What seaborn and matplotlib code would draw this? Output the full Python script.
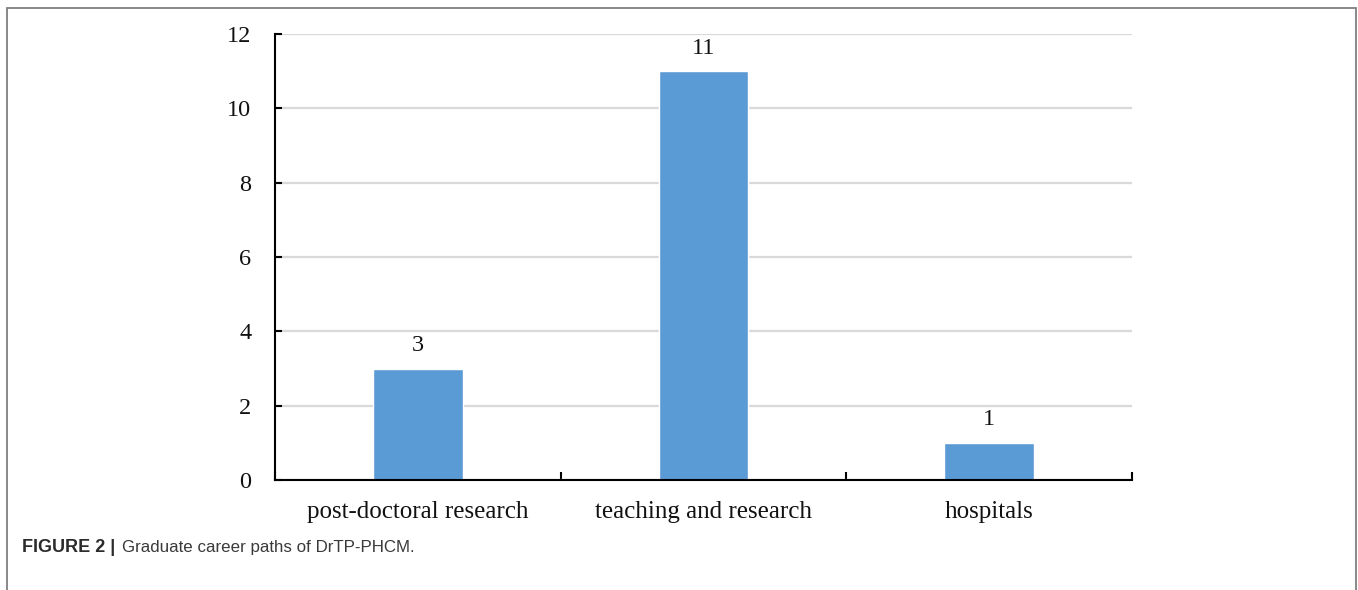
import matplotlib
matplotlib.use("Agg")
import matplotlib.pyplot as plt
from matplotlib.patches import Rectangle
from matplotlib.ticker import FixedLocator
import seaborn as sns
import pandas as pd

# Career destinations of programme graduates
categories = ["post-doctoral research", "teaching and research", "hospitals"]
counts = [3, 11, 1]
y_ticks = [0, 2, 4, 6, 8, 10, 12]

caption_bold = "FIGURE 2 |"
caption_text = "Graduate career paths of DrTP-PHCM."

sns.set_theme(style="white")
plt.rcParams["font.family"] = ["Liberation Serif", "DejaVu Serif"]

W, H = 1358, 590
fig = plt.figure(figsize=(W / 100, H / 100), dpi=100)
ax = fig.add_axes([275 / W, 1 - 480 / H, (1132 - 275) / W, (480 - 34) / H])

df = pd.DataFrame({"category": categories, "count": counts})
sns.barplot(data=df, x="category", y="count", color="#5B9BD5", width=0.315,
            saturation=1, ax=ax, zorder=3)

ax.set_xlim(-0.5, len(categories) - 0.5)
ax.set_ylim(0, 12)
ax.set_yticks(y_ticks)
ax.set_xlabel("")
ax.set_ylabel("")

# light horizontal gridlines
ax.yaxis.grid(True, color="#d9d9d9", linewidth=1.6, zorder=0)
ax.set_axisbelow(True)

for side in ("top", "right"):
    ax.spines[side].set_visible(False)
for side in ("left", "bottom"):
    ax.spines[side].set_color("black")
    ax.spines[side].set_linewidth(1.5)
    ax.spines[side].set_zorder(4)

# category boundary ticks
ax.xaxis.set_minor_locator(FixedLocator([i - 0.5 for i in range(len(categories) + 1)]))
ax.tick_params(axis="x", which="major", direction="in", length=4, width=1.5,
               color="black", labelsize=18, pad=15, bottom=True)
ax.tick_params(axis="x", which="minor", direction="in", length=6, width=1.5,
               color="black", bottom=True)
ax.tick_params(axis="y", which="major", direction="in", length=5, width=1.5,
               color="black", labelsize=17.5, pad=17, left=True)
for lab in ax.get_xticklabels() + ax.get_yticklabels():
    lab.set_color("#111111")

# value labels above each bar
for i, v in enumerate(counts):
    ax.annotate(str(v), xy=(i, v), xytext=(0, 9), textcoords="offset points",
                ha="center", va="bottom", fontsize=17.5, color="#111111")

# outer frame around the figure
frame = Rectangle((7 / W, -0.05), (1356 - 7) / W, 1 - 8 / H + 0.05,
                  transform=fig.transFigure, fill=False, edgecolor="#7f7f7f",
                  linewidth=1.3, clip_on=False)
fig.patches.append(frame)

# caption, both parts sharing one baseline
cap_y = 1 - 552 / H
t1 = fig.text(22 / W, cap_y, caption_bold, fontsize=13, fontweight="bold",
              family=["Liberation Sans", "DejaVu Sans"], color="#2b2b2b", va="baseline")
fig.canvas.draw()
bb = t1.get_window_extent()
fig.text((bb.x1 + 7) / W, cap_y, caption_text, fontsize=12.2,
         family=["Liberation Sans", "DejaVu Sans"], color="#3a3a3a", va="baseline")

fig.savefig("out.png", dpi=100)
